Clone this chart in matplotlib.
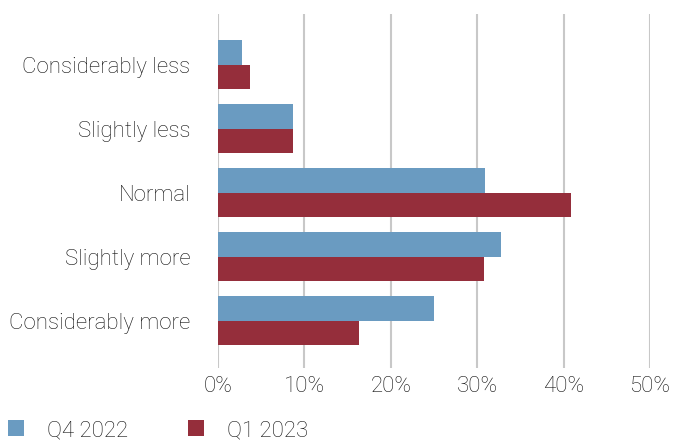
import matplotlib.pyplot as plt
import numpy as np

plt.rcParams['font.family'] = ['Roboto', 'DejaVu Sans']

categories = ["Considerably less", "Slightly less", "Normal", "Slightly more", "Considerably more"]
q4_2022 = [2.8, 8.7, 30.9, 32.8, 25.0]
q1_2023 = [3.7, 8.7, 40.8, 30.8, 16.3]
ticks = [0, 10, 20, 30, 40, 50]

blue = "#6a9bc1"
red = "#952e3b"
txt = "#111111"
fs = 16
fw = 'light'

fig = plt.figure(figsize=(6.75, 4.41), dpi=100)
ax = fig.add_axes([218 / 675, 1 - 368 / 441, (650 - 218) / 675 * 1.0, (368 - 14) / 441])

y = np.arange(len(categories))
h = 0.38
ax.barh(y - h / 2, q4_2022, height=h, color=blue, label="Q4 2022", zorder=2)
ax.barh(y + h / 2, q1_2023, height=h, color=red, label="Q1 2023", zorder=2)

ax.set_xlim(0, 50)
ax.set_ylim(4.74, -0.79)
ax.set_xticks(ticks)
ax.set_xticklabels([f"{t}%" for t in ticks], fontsize=fs, fontweight=fw, color=txt)
ax.set_yticks(y)
ax.set_yticklabels(categories, fontsize=fs, fontweight=fw, color=txt)
ax.tick_params(axis='both', length=0)
ax.tick_params(axis='y', pad=20)
ax.tick_params(axis='x', pad=6)
ax.grid(axis='x', color="#c8c8c8", linewidth=1.5, zorder=0)
ax.set_axisbelow(True)
for s in ax.spines.values():
    s.set_visible(False)

fig.legend(loc='lower left', bbox_to_anchor=(0.008, -0.005), ncol=2, frameon=False,
           prop={'size': fs, 'weight': fw}, handlelength=0.75, handleheight=0.75,
           handletextpad=1.0, columnspacing=2.7, borderaxespad=0.0, borderpad=0.1,
           labelcolor=txt)

fig.savefig("out.png", dpi=100)
